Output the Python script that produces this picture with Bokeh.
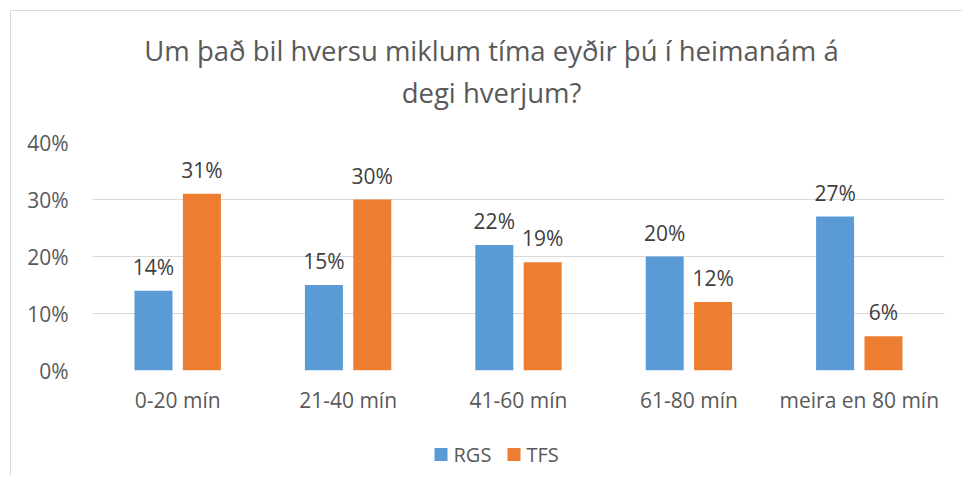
from bokeh.plotting import figure
from bokeh.layouts import column
from bokeh.models import (ColumnDataSource, FactorRange, Range1d, FixedTicker,
                          NumeralTickFormatter, Label)
from bokeh.transform import dodge
from bokeh.core.properties import value
from bokeh.embed import file_html
from bokeh.resources import INLINE

categories = ["0-20 mín", "21-40 mín", "41-60 mín", "61-80 mín", "meira en 80 mín"]
rgs = [0.14, 0.15, 0.22, 0.20, 0.27]
tfs = [0.31, 0.30, 0.19, 0.12, 0.06]
series_names = ["RGS", "TFS"]
y_ticks = [0, 0.1, 0.2, 0.3, 0.4]
title_lines = ["Um það bil hversu miklum tíma eyðir þú í heimanám á", "degi hverjum?"]

FONT = "Open Sans"
TXT = "#595959"
BLUE = "#5B9BD5"
ORANGE = "#ED7D31"
W = 951
ML, MR = 81, 18   # left / right borders of the plotting frame (shared by all rows)

def strip(h):
    # a frame whose data coordinates equal canvas pixels (y downwards)
    fig = figure(width=W, height=h, x_range=Range1d(ML, W - MR), y_range=Range1d(h, 0),
                 output_backend="svg", toolbar_location=None,
                 x_axis_location=None, y_axis_location=None,
                 min_border_left=ML, min_border_right=MR,
                 min_border_top=0, min_border_bottom=0)
    fig.grid.visible = False
    fig.outline_line_color = None
    fig.border_fill_color = "white"
    fig.background_fill_color = "white"
    return fig

# ---- title strip ----
TH = 111
pt = strip(TH)
for t, ty in zip(title_lines, [39, 81]):
    pt.add_layout(Label(x=480, y=ty, text=t, text_align="center", text_baseline="middle",
                        text_font=FONT, text_font_size="27.5px", text_color=TXT))

# ---- main chart ----
src = ColumnDataSource(dict(
    cat=categories, rgs=rgs, tfs=tfs,
    rgs_lbl=[f"{round(v*100)}%" for v in rgs],
    tfs_lbl=[f"{round(v*100)}%" for v in tfs],
))

p = figure(x_range=FactorRange(*categories, range_padding=0), y_range=Range1d(0, 0.4),
           width=W, height=298, output_backend="svg", toolbar_location=None,
           min_border_left=ML, min_border_right=MR, min_border_top=20, min_border_bottom=50)
p.outline_line_color = None
p.background_fill_color = "white"
p.border_fill_color = "white"

off = 0.142
w = 0.223
p.vbar(x=dodge("cat", -off, range=p.x_range), top="rgs", width=w, source=src,
       fill_color=BLUE, line_color=None)
p.vbar(x=dodge("cat", off, range=p.x_range), top="tfs", width=w, source=src,
       fill_color=ORANGE, line_color=None)

for col, lbl, dx in [("rgs", "rgs_lbl", -off), ("tfs", "tfs_lbl", off)]:
    p.text(x=dodge("cat", dx, range=p.x_range), y=col, text=lbl, source=src,
           text_align="center", text_baseline="middle", y_offset=-24,
           text_font=value(FONT), text_font_size="21px", text_color="#404040")

p.xgrid.grid_line_color = None
p.ygrid.grid_line_color = "#d9d9d9"
p.ygrid.ticker = FixedTicker(ticks=y_ticks)

p.yaxis.ticker = FixedTicker(ticks=y_ticks)
p.yaxis.formatter = NumeralTickFormatter(format="0%")
for ax in (p.xaxis[0], p.yaxis[0]):
    ax.axis_line_color = None
    ax.major_tick_line_color = None
    ax.minor_tick_line_color = None
    ax.major_label_text_font = FONT
    ax.major_label_text_color = TXT
    ax.major_label_text_font_size = "21px"
p.yaxis.major_label_standoff = 18
p.xaxis.major_label_standoff = 9

# ---- legend strip ----
LH = 55
pl = strip(LH)
leg_x0 = 423          # left edge of first swatch (canvas px)
swatch = 13
standoff = 6
item_w = [73, 60]     # swatch + label advance for each item
gx, tx, acc = [], [], leg_x0
for iw in item_w:
    gx.append(acc + swatch / 2)
    tx.append(acc + swatch + standoff)
    acc += iw
leg_src = ColumnDataSource(dict(name=series_names, color=[BLUE, ORANGE], gx=gx, tx=tx,
                                y=[34, 34]))
pl.rect(x="gx", y="y", width=swatch, height=swatch, source=leg_src,
        fill_color="color", line_color=None)
pl.text(x="tx", y="y", text="name", source=leg_src, text_baseline="middle",
        text_font=value(FONT), text_font_size="20px", text_color=TXT)

layout = column(pt, p, pl, spacing=0)
layout.styles = {"border-left": "1px solid #d9d9d9", "border-top": "1px solid #d9d9d9",
                 "margin-left": "10px", "margin-top": "10px"}

open("out.html", "w").write(file_html(layout, INLINE))
